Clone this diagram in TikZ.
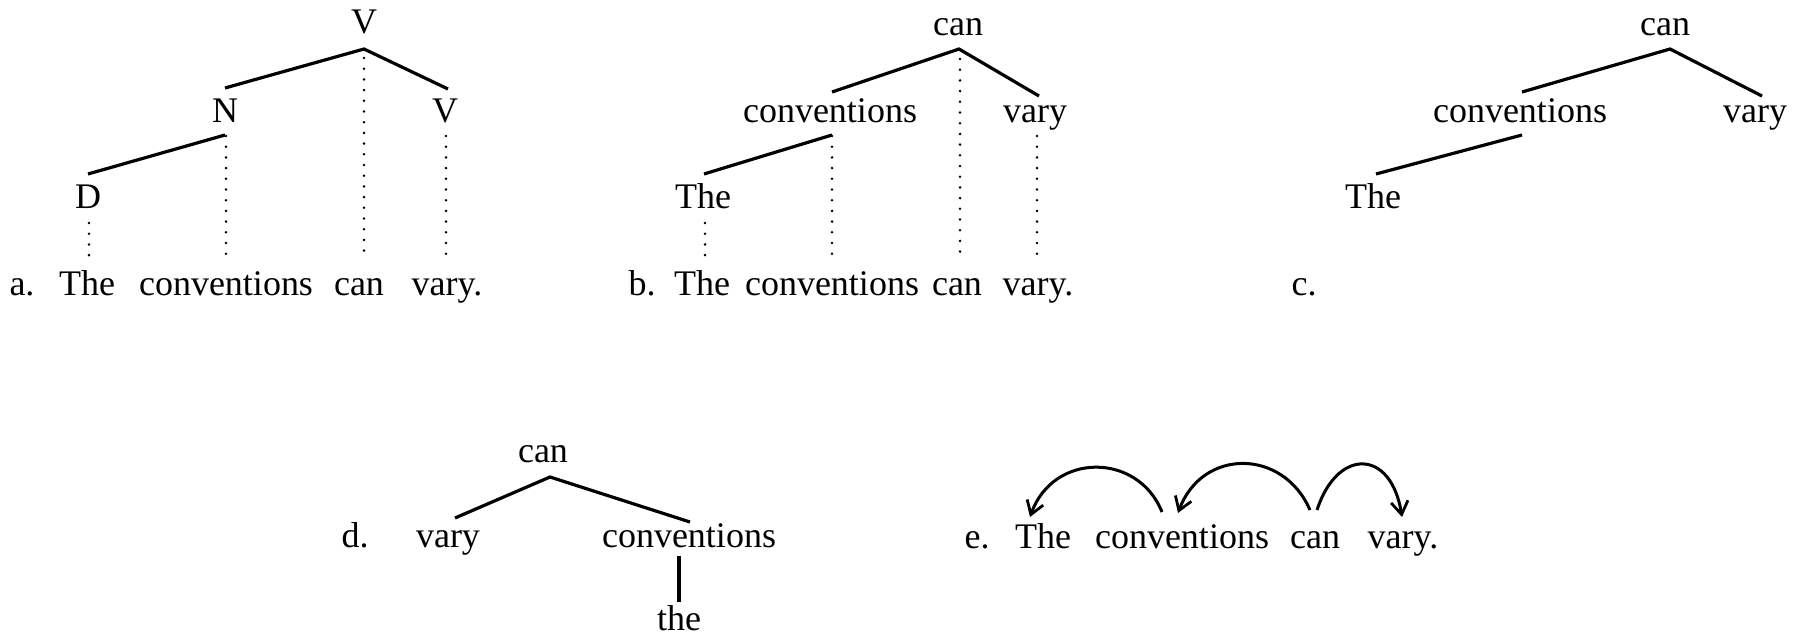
\documentclass[tikz,border=0pt]{standalone}
\usepackage{fontspec}
\setmainfont{Liberation Serif}
\usetikzlibrary{calc,arrows.meta}
\begin{document}
\begin{tikzpicture}[x=1pt,y=-1pt,
  w/.style={anchor=base,inner sep=0pt,font=\fontsize{36}{40}\selectfont},
  br/.style={line width=3.2pt},
  dots/.style={line width=2.8pt,line cap=round,dash pattern=on 0pt off 10.7pt},
  dep/.style={line width=3pt,-{Straight Barb[length=13pt,width=17pt,line width=2.8pt]}}]
\useasboundingbox (0,0) rectangle (1810,637);
% ---------- a ----------
\node[w] (aV) at (364,33) {V};
\node[w] (aN) at (225,122) {N};
\node[w] (aV2) at (445,122) {V};
\node[w] (aD) at (88,208) {D};
\node[w] (aL) at (22,295) {a.};
\node[w] (aThe) at (87,295) {The};
\node[w] (aConv) at (226,295) {conventions};
\node[w] (aCan) at (359,295) {can};
\node[w] (aVary) at (447,295) {vary.};
\draw[br] ($(aN.base)+(0,-34)$) -- ($(aV.base)+(0,16)$) -- ($(aV2.base)+(3,-33)$);
\draw[br] ($(aD.base)+(0,-34)$) -- ($(aN.base)+(0,13)$);
\draw[dots] ($(aD.base)+(1,15)$) -- ($(aD.base |- aThe.base)+(1,-38)$);
\draw[dots] ($(aN.base)+(1,14)$) -- ($(aN.base |- aConv.base)+(1,-38)$);
\draw[dots] ($(aV.base)+(0,25)$) -- ($(aV.base |- aCan.base)+(0,-38)$);
\draw[dots] ($(aV2.base)+(1,14)$) -- ($(aV2.base |- aVary.base)+(1,-38)$);
% ---------- b ----------
\node[w] (bCan) at (958,35) {can};
\node[w] (bConv) at (830,122) {conventions};
\node[w] (bVary) at (1035,122) {vary};
\node[w] (bThe) at (703,208) {The};
\node[w] (bL) at (642,295) {b.};
\node[w] (bThe2) at (702,295) {The};
\node[w] (bConv2) at (832,295) {conventions};
\node[w] (bCan2) at (957,295) {can};
\node[w] (bVary2) at (1038,295) {vary.};
\draw[br] ($(bConv.base)+(2,-30)$) -- ($(bCan.base)+(1,14)$) -- ($(bVary.base)+(4,-26)$);
\draw[br] ($(bThe.base)+(1,-34)$) -- ($(bConv.base)+(2,13)$);
\draw[dots] ($(bThe.base)+(2,15)$) -- ($(bThe.base |- bThe2.base)+(2,-38)$);
\draw[dots] ($(bConv.base)+(2,14)$) -- ($(bConv.base |- bConv2.base)+(2,-38)$);
\draw[dots] ($(bCan.base)+(2,24)$) -- ($(bCan.base |- bCan2.base)+(2,-38)$);
\draw[dots] ($(bVary.base)+(2,14)$) -- ($(bVary.base |- bVary2.base)+(2,-38)$);
% ---------- c ----------
\node[w] (cCan) at (1665,35) {can};
\node[w] (cConv) at (1520,122) {conventions};
\node[w] (cVary) at (1755,122) {vary};
\node[w] (cThe) at (1373,208) {The};
\node[w] (cL) at (1304,295) {c.};
\draw[br] ($(cConv.base)+(2,-30)$) -- ($(cCan.base)+(5,14)$) -- ($(cVary.base)+(7,-26)$);
\draw[br] ($(cThe.base)+(3,-34)$) -- ($(cConv.base)+(2,13)$);
% ---------- d ----------
\node[w] (dCan) at (543,462) {can};
\node[w] (dL) at (355,547) {d.};
\node[w] (dVary) at (448,547) {vary};
\node[w] (dConv) at (689,547) {conventions};
\node[w] (dThe) at (679,630) {the};
\draw[br] ($(dVary.base)+(7,-29)$) -- ($(dCan.base)+(7,15)$) -- ($(dConv.base)+(1,-25)$);
\draw[br] ($(dConv.base)+(-10,9)$) -- ($(dThe.base)+(0,-28)$);
% ---------- e ----------
\node[w] (eL) at (977,548) {e.};
\node[w] (eThe) at (1043,548) {The};
\node[w] (eConv) at (1182,548) {conventions};
\node[w] (eCan) at (1315,548) {can};
\node[w] (eVary) at (1403,548) {vary.};
\draw[dep] ($(eConv.base)+(-20,-36)$) .. controls ($(eConv.base)+(-44,-96)$) and ($(eThe.base)+(10,-96)$) .. ($(eThe.base)+(-13,-31)$);
\draw[dep] ($(eCan.base)+(-5,-38)$) .. controls ($(eCan.base)+(-32,-100)$) and ($(eConv.base)+(20,-100)$) .. ($(eConv.base)+(-4,-35)$);
\draw[dep] ($(eCan.base)+(2,-38)$) .. controls ($(eCan.base)+(22,-100)$) and ($(eVary.base)+(-12,-100)$) .. ($(eVary.base)+(-1,-31)$);
\end{tikzpicture}
\end{document}
